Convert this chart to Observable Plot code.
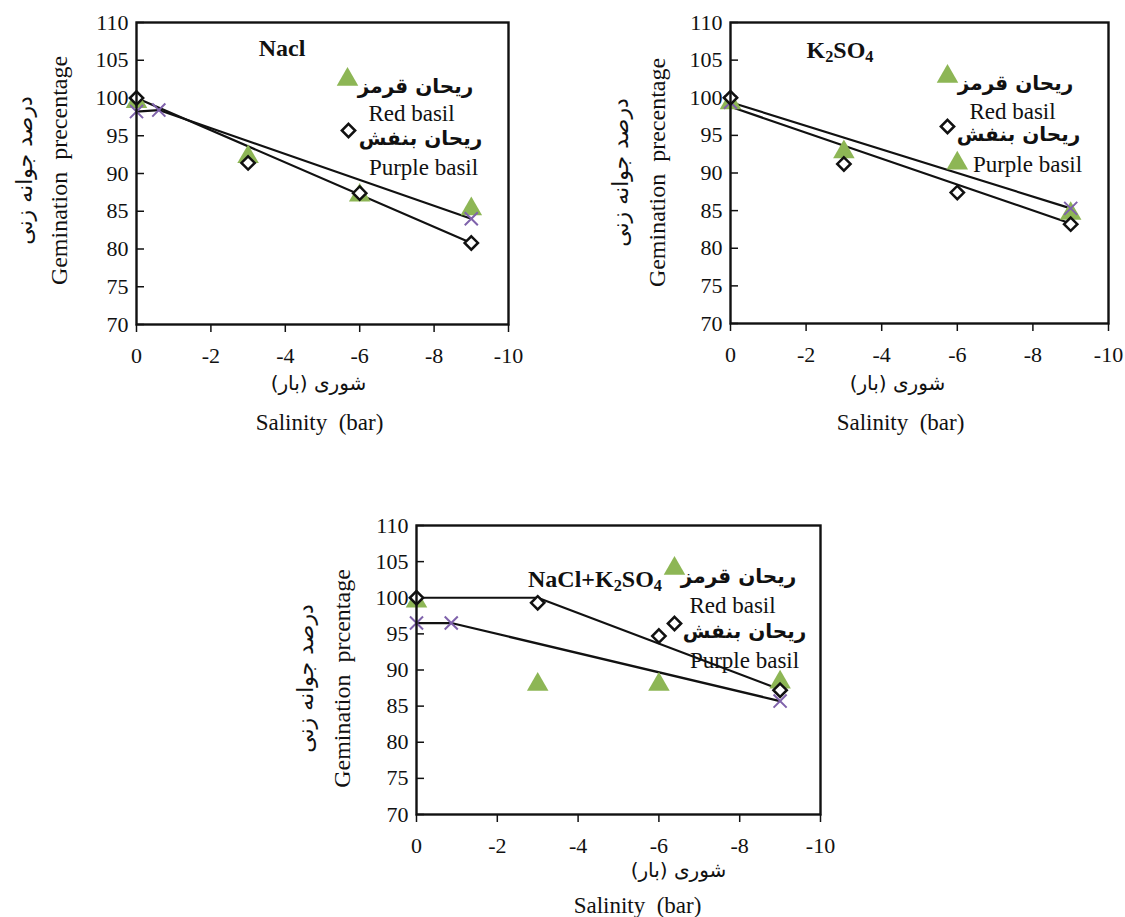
<!DOCTYPE html>
<html>
<head>
<meta charset="utf-8">
<script src="https://cdn.jsdelivr.net/npm/d3@7"></script>
<script src="https://cdn.jsdelivr.net/npm/@observablehq/plot@0.6"></script>
<style>
  body { margin: 0; background: #fff; }
  #page { position: relative; width: 1125px; height: 917px; overflow: hidden; background: #fff; }
  .panel { position: absolute; }
  .title { position: absolute; font: bold 24px "Liberation Serif", serif; color: #111; white-space: nowrap; transform: translate(-50%, -50%); }
  .title sub { font-size: 0.68em; vertical-align: -0.3em; }
</style>
</head>
<body>
<div id="page"></div>
<script>
// ---------- data ----------
const salinity = [0, -3, -6, -9];
const xTicks = [0, -2, -4, -6, -8, -10];
const yTicks = [70, 75, 80, 85, 90, 95, 100, 105, 110];

// NaCl
const naclRed = [99.5, 92.2, 87.1, 85.3];
const naclPurple = [100, 91.4, 87.4, 80.8];
const naclCrossX = [0, -0.6, -9];
const naclCrossY = [98.2, 98.4, 84.0];
const naclLineX = [0, -9];
const naclLineY = [100, 80.8];

// K2SO4
const k2so4Red = [99.3, 92.8, 91.3, 84.6];
const k2so4Purple = [100, 91.2, 87.4, 83.2];
const k2so4CrossX = [0, -9];
const k2so4CrossY = [99.4, 85.3];
const k2so4LineX = [0, -9];
const k2so4LineY = [98.8, 83.3];

// NaCl + K2SO4
const mixRed = [99.5, 88.0, 88.0, 88.3];
const mixPurple = [100, 99.3, 94.7, 87.2];
const mixCrossX = [0, -0.86, -9];
const mixCrossY = [96.5, 96.5, 85.7];
const mixLineX = [0, -3, -9];
const mixLineY = [100, 100, 87.3];

const legendLabels = ["ریحان قرمز", "Red basil", "ریحان بنفش", "Purple basil"];
const xTitleFa = "شوری (بار)";
const xTitleEn = "Salinity  (bar)";
const yTitleFa = "درصد جوانه زنی";
const yTitleEn1 = "Gemination  precentage";
const yTitleEn2 = "Gemination  prcentage";
const titles = ["Nacl", "K<sub>2</sub>SO<sub>4</sub>", "NaCl+K<sub>2</sub>SO<sub>4</sub>"];

// ---------- styling / layout ----------
const GREEN = "#8db655";
const PURPLE = "#7f62ab";
const INK = "#111";
const SERIF = "\"Liberation Serif\", \"Times New Roman\", serif";
const FA = "\"DejaVu Sans\", sans-serif";

const zip = (xs, ys) => xs.map((x, i) => ({x, y: ys[i]}));

const panels = [
  {
    box: {left: 0, top: 0, width: 560, height: 440},
    frame: {L: 136, R: 508, T: 22, B: 324},
    red: zip(salinity, naclRed), purple: zip(salinity, naclPurple),
    cross: zip(naclCrossX, naclCrossY), line: zip(naclLineX, naclLineY),
    yEn: yTitleEn1,
    title: {html: titles[0], x: 282, y: 48},
    legend: {tri: [211, 57], fa1: [279, 64], en1: [275, 91], dia: [212, 108], fa2: [284, 116], en2: [287, 145]},
    yT: {fa: [-112, 148], en: [-77, 148]},
    xT: {fa: [182, 361], en: [183, 400]}
  },
  {
    box: {left: 580, top: 0, width: 545, height: 440},
    frame: {L: 730, R: 1108, T: 22, B: 323},
    red: zip(salinity, k2so4Red), purple: zip(salinity, k2so4Purple),
    cross: zip(k2so4CrossX, k2so4CrossY), line: zip(k2so4LineX, k2so4LineY),
    yEn: yTitleEn1,
    title: {html: titles[1], x: 840, y: 52},
    legend: {tri: [217, 54], fa1: [285, 61], en1: [282, 89], dia: [217, 104], fa2: [288, 112], en2: [297, 142]},
    yT: {fa: [-110, 150], en: [-73, 150]},
    xT: {fa: [167, 361], en: [170, 400]}
  },
  {
    box: {left: 280, top: 500, width: 560, height: 417},
    frame: {L: 416, R: 820, T: 525, B: 814},
    red: zip(salinity, mixRed), purple: zip(salinity, mixPurple),
    cross: zip(mixCrossX, mixCrossY), line: zip(mixLineX, mixLineY),
    yEn: yTitleEn2,
    title: {html: titles[2], x: 595, y: 581},
    legend: {tri: [258, 43], fa1: [322, 51], en1: [316, 80], dia: [258, 98], fa2: [328, 106], en2: [328, 135]},
    yT: {fa: [-111, 153], en: [-74, 153]},
    xT: {fa: [262, 345], en: [221, 380]}
  }
];

const page = document.getElementById("page");

function textAt(str, pos, opts) {
  return Plot.text([str], {
    frameAnchor: "top-left", dx: pos[0], dy: pos[1], text: d => d,
    textAnchor: "middle", lineAnchor: "middle", fill: INK, ...opts
  });
}

for (const p of panels) {
  const {box, frame} = p;
  const chart = Plot.plot({
    width: box.width,
    height: box.height,
    marginLeft: frame.L - box.left,
    marginRight: box.left + box.width - frame.R,
    marginTop: frame.T - box.top,
    marginBottom: box.top + box.height - frame.B,
    style: {fontFamily: SERIF, fontSize: "22px", color: INK, background: "transparent", overflow: "visible"},
    x: {domain: [0, -10]},
    y: {domain: [70, 110]},
    marks: [
      Plot.axisX({ticks: xTicks, tickSize: 8, tickPadding: 15, tickFormat: d => String(d), fontSize: 22, fontFamily: SERIF, label: null, strokeWidth: 1.5}),
      Plot.axisY({ticks: yTicks, tickSize: 0, tickPadding: 8, fontSize: 22, fontFamily: SERIF, label: null}),
      Plot.axisY({ticks: yTicks, tickSize: 8, dx: 8, tickFormat: () => "", label: null, strokeWidth: 1.5}),
      Plot.line(p.cross, {x: "x", y: "y", stroke: INK, strokeWidth: 2.2}),
      Plot.line(p.line, {x: "x", y: "y", stroke: INK, strokeWidth: 2.2}),
      Plot.dot(p.red, {x: "x", y: "y", symbol: "triangle", r: 8, fill: GREEN, stroke: "none"}),
      Plot.dot(p.cross, {x: "x", y: "y", symbol: "times", r: 6, stroke: PURPLE, strokeWidth: 2}),
      Plot.dot(p.purple, {x: "x", y: "y", symbol: "diamond2", r: 6, fill: "white", stroke: INK, strokeWidth: 2.5}),
      Plot.frame({stroke: INK, strokeWidth: 2.4}),
      // legend
      Plot.dot([0], {frameAnchor: "top-left", dx: p.legend.tri[0], dy: p.legend.tri[1], symbol: "triangle", r: 8, fill: GREEN, stroke: "none"}),
      Plot.dot([0], {frameAnchor: "top-left", dx: p.legend.dia[0], dy: p.legend.dia[1], symbol: "diamond2", r: 6, fill: "white", stroke: INK, strokeWidth: 2.5}),
      textAt(legendLabels[0], p.legend.fa1, {fontFamily: FA, fontWeight: "bold", fontSize: 20}),
      textAt(legendLabels[1], p.legend.en1, {fontFamily: SERIF, fontSize: 23}),
      textAt(legendLabels[2], p.legend.fa2, {fontFamily: FA, fontWeight: "bold", fontSize: 20}),
      textAt(legendLabels[3], p.legend.en2, {fontFamily: SERIF, fontSize: 23}),
      // axis titles
      textAt(yTitleFa, p.yT.fa, {fontFamily: FA, fontSize: 22, rotate: -90}),
      textAt(p.yEn, p.yT.en, {fontFamily: SERIF, fontSize: 24, rotate: -90}),
      textAt(xTitleFa, p.xT.fa, {fontFamily: FA, fontSize: 20}),
      textAt(xTitleEn, p.xT.en, {fontFamily: SERIF, fontSize: 23})
    ]
  });
  const holder = document.createElement("div");
  holder.className = "panel";
  holder.style.left = box.left + "px";
  holder.style.top = box.top + "px";
  holder.appendChild(chart);
  page.appendChild(holder);

  const t = document.createElement("div");
  t.className = "title";
  t.innerHTML = p.title.html;
  t.style.left = p.title.x + "px";
  t.style.top = p.title.y + "px";
  page.appendChild(t);
}
</script>
</body>
</html>
